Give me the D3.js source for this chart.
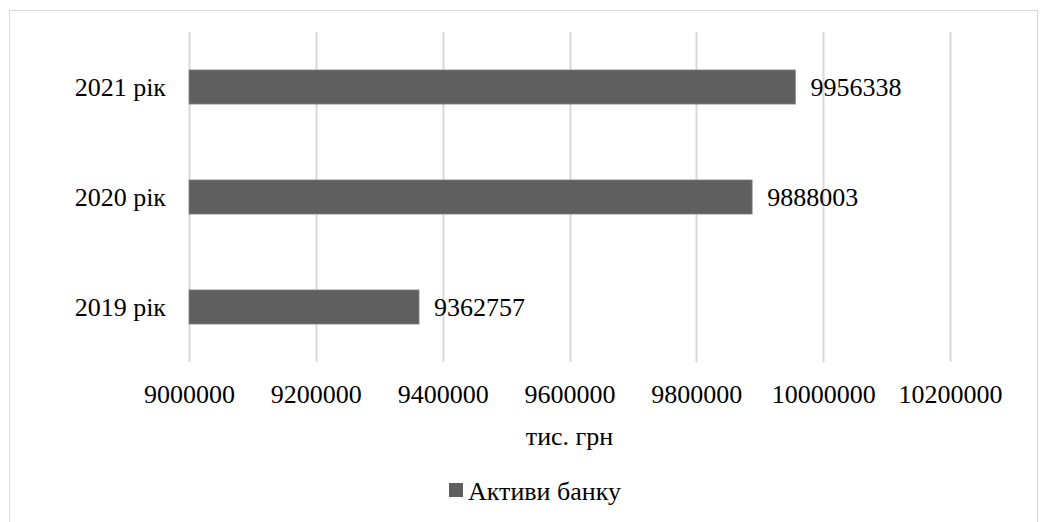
<!DOCTYPE html>
<html>
<head>
<meta charset="utf-8">
<script src="https://cdn.jsdelivr.net/npm/d3@7/dist/d3.min.js"></script>
<style>
  html, body { margin: 0; padding: 0; background: #fff; }
  svg { display: block; }
</style>
</head>
<body>
<svg id="chart" width="1048" height="522"></svg>
<script>
// Bank assets by year, thousand UAH
const categories = ["2019 рік", "2020 рік", "2021 рік"];
const assets = [9362757, 9888003, 9956338];
const tickValues = [9000000, 9200000, 9400000, 9600000, 9800000, 10000000, 10200000];
const seriesName = "Активи банку";
const axisTitle = "тис. грн";

const FONT = "'Liberation Serif', serif";
const fontSize = 26;

const svg = d3.select("#chart");
const plot = { left: 189, right: 950, top: 32, bottom: 362 };

function styleText(sel) {
  return sel.style("font-family", FONT)
    .style("font-size", fontSize + "px")
    .attr("fill", "#000");
}

// outer frame
svg.append("rect")
  .attr("x", 9.5).attr("y", 10.5)
  .attr("width", 1028).attr("height", 530)
  .attr("fill", "#fff").attr("stroke", "#d9d9d9").attr("stroke-width", 1);

const x = d3.scaleLinear()
  .domain([tickValues[0], tickValues[tickValues.length - 1]])
  .range([plot.left, plot.right]);

// categories from bottom (2019) to top (2021)
const y = d3.scaleBand()
  .domain(categories.slice().reverse())
  .range([plot.top, plot.bottom])
  .paddingInner(0.69)
  .paddingOuter(0.345);

// vertical gridlines
svg.append("g")
  .selectAll("line")
  .data(tickValues)
  .join("line")
  .attr("x1", d => Math.round(x(d)) + 0.5)
  .attr("x2", d => Math.round(x(d)) + 0.5)
  .attr("y1", plot.top)
  .attr("y2", plot.bottom)
  .attr("stroke", "#d9d9d9")
  .attr("stroke-width", 2);

// x tick labels
const xAxis = d3.axisBottom(x)
  .tickValues(tickValues)
  .tickSize(0)
  .tickPadding(0)
  .tickFormat(d3.format("d"));
const gx = svg.append("g")
  .attr("transform", `translate(0,${plot.bottom})`)
  .call(xAxis)
  .attr("font-family", null)
  .attr("font-size", null);
gx.select(".domain").remove();
styleText(gx.selectAll("text").attr("dy", null).attr("y", 41));

// y category labels
const yAxis = d3.axisLeft(y).tickSize(0).tickPadding(0);
const gy = svg.append("g")
  .attr("transform", `translate(${plot.left - 23},0)`)
  .call(yAxis)
  .attr("font-family", null)
  .attr("font-size", null);
gy.select(".domain").remove();
styleText(gy.selectAll("text").attr("dy", "0.35em"));

// bars
const rows = categories.map((c, i) => ({ cat: c, value: assets[i] }));
svg.append("g")
  .selectAll("rect")
  .data(rows)
  .join("rect")
  .attr("x", x(tickValues[0]))
  .attr("y", d => y(d.cat))
  .attr("width", d => x(d.value) - x(tickValues[0]))
  .attr("height", y.bandwidth())
  .attr("fill", "#5f5f5f")
  .attr("stroke", "#8a8a8a")
  .attr("stroke-width", 0.75);

// value labels
styleText(svg.append("g")
  .selectAll("text")
  .data(rows)
  .join("text")
  .attr("x", d => x(d.value) + 15)
  .attr("y", d => y(d.cat) + y.bandwidth() / 2)
  .attr("dy", "0.35em")
  .text(d => d3.format("d")(d.value)));

// axis title
styleText(svg.append("text")
  .attr("x", (plot.left + plot.right) / 2)
  .attr("y", 445)
  .attr("text-anchor", "middle")
  .text(axisTitle));

// legend
const legend = svg.append("g").attr("transform", "translate(449,483)");
legend.append("rect")
  .attr("width", 14).attr("height", 14)
  .attr("fill", "#5f5f5f");
styleText(legend.append("text")
  .attr("x", 19)
  .attr("y", 17)
  .text(seriesName));
</script>
</body>
</html>
